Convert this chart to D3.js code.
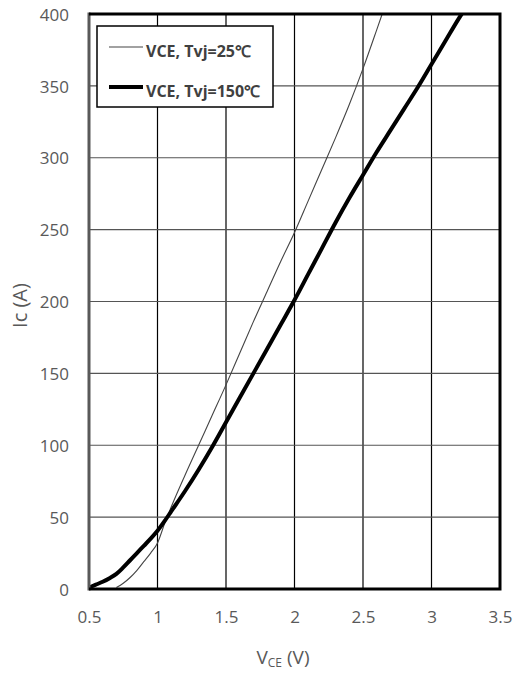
<!DOCTYPE html>
<html>
<head>
<meta charset="utf-8">
<script src="https://cdn.jsdelivr.net/npm/d3@7"></script>
<style>
  html, body { margin: 0; padding: 0; background: #fff; }
  svg { display: block; font-family: "Open Sans", sans-serif; }
</style>
</head>
<body>
<svg id="chart" width="514" height="673"></svg>
<script>
// Output characteristic Ic vs VCE at two junction temperatures
const vce25 = [0.70, 0.75, 0.80, 0.85, 0.90, 0.95, 1.00, 1.05, 1.10, 1.20, 1.30, 1.40, 1.50, 1.60, 1.70, 1.80, 1.90, 2.00, 2.10, 2.20, 2.30, 2.40, 2.50, 2.60, 2.64];
const ic25  = [1, 4, 8, 13, 19, 25, 32, 45, 57, 79, 100, 121, 142, 164, 186, 207, 228, 248, 270, 292, 314, 337, 362, 389, 400];

const vce150 = [0.50, 0.55, 0.60, 0.65, 0.70, 0.75, 0.80, 0.85, 0.90, 0.95, 1.00, 1.05, 1.10, 1.20, 1.30, 1.40, 1.50, 1.60, 1.70, 1.80, 1.90, 2.00, 2.10, 2.20, 2.30, 2.40, 2.50, 2.60, 2.70, 2.80, 2.90, 3.00, 3.10, 3.20, 3.22];
const ic150  = [1, 3, 5, 7.5, 10.5, 15, 20, 25, 30, 35, 40.5, 47, 54, 68, 83, 99, 116, 133, 150, 167, 184, 201, 219, 237, 255, 272, 288, 304, 319, 334, 349, 365, 381, 397, 400];

const xTicks = [0.5, 1, 1.5, 2, 2.5, 3, 3.5];
const yTicks = [0, 50, 100, 150, 200, 250, 300, 350, 400];
const legendLabels = ["VCE, Tvj=25\u2103", "VCE, Tvj=150\u2103"];

const svg = d3.select("#chart");
const plot = { left: 89, right: 500, top: 14, bottom: 589 };

const x = d3.scaleLinear().domain([0.5, 3.5]).range([plot.left, plot.right]);
const y = d3.scaleLinear().domain([0, 400]).range([plot.bottom, plot.top]);

// grid
const grid = svg.append("g");
grid.selectAll("line.v").data(xTicks.slice(1, -1)).join("line")
  .attr("x1", d => x(d)).attr("x2", d => x(d))
  .attr("y1", plot.top).attr("y2", plot.bottom)
  .attr("stroke", "#000").attr("stroke-width", 1.2);
grid.selectAll("line.h").data(yTicks.slice(1, -1)).join("line")
  .attr("x1", plot.left).attr("x2", plot.right)
  .attr("y1", d => y(d)).attr("y2", d => y(d))
  .attr("stroke", "#555").attr("stroke-width", 1.2);

// tick labels
const xAxis = d3.axisBottom(x).tickValues(xTicks).tickSize(0).tickPadding(0).tickFormat(d3.format("~g"));
const gx = svg.append("g").attr("transform", `translate(0,${plot.bottom})`).call(xAxis);
gx.select(".domain").remove();
gx.selectAll("text").attr("dy", null).attr("y", 34)
  .attr("font-size", 17).attr("font-family", "Open Sans, sans-serif").attr("fill", "#595959");

const yAxis = d3.axisLeft(y).tickValues(yTicks).tickSize(0).tickPadding(0);
const gy = svg.append("g").attr("transform", `translate(${plot.left - 20},0)`).call(yAxis);
gy.select(".domain").remove();
gy.selectAll("text").attr("dy", "0.36em")
  .attr("font-size", 17).attr("font-family", "Open Sans, sans-serif").attr("fill", "#595959");

// curves
svg.append("clipPath").attr("id", "plotclip").append("rect")
  .attr("x", plot.left).attr("y", plot.top)
  .attr("width", plot.right - plot.left).attr("height", plot.bottom - plot.top);

const lineGen = d3.line().x(d => x(d[0])).y(d => y(d[1])).curve(d3.curveMonotoneX);

const curves = svg.append("g").attr("clip-path", "url(#plotclip)");
curves.append("path").datum(d3.zip(vce25, ic25))
  .attr("d", lineGen).attr("fill", "none").attr("stroke", "#444").attr("stroke-width", 1.1);
curves.append("path").datum(d3.zip(vce150, ic150))
  .attr("d", lineGen).attr("fill", "none").attr("stroke", "#000").attr("stroke-width", 4)
  .attr("stroke-linejoin", "round");

// frame
svg.append("line").attr("x1", plot.left).attr("x2", plot.left)
  .attr("y1", plot.top - 1.5).attr("y2", plot.bottom + 1.5)
  .attr("stroke", "#595959").attr("stroke-width", 3);
svg.append("path")
  .attr("d", `M${plot.left},${plot.top}H${plot.right}V${plot.bottom}H${plot.left}`)
  .attr("fill", "none").attr("stroke", "#000").attr("stroke-width", 3);

// legend
const lg = svg.append("g");
lg.append("rect").attr("x", 97).attr("y", 26).attr("width", 176).attr("height", 81)
  .attr("fill", "#fff").attr("stroke", "#000").attr("stroke-width", 1.5);
const rows = [{ w: 1.1, c: "#444", y: 47 }, { w: 4, c: "#000", y: 87 }];
rows.forEach((r, i) => {
  lg.append("line").attr("x1", 109).attr("x2", 143).attr("y1", r.y).attr("y2", r.y)
    .attr("stroke", r.c).attr("stroke-width", r.w);
  lg.append("text").attr("x", 146).attr("y", r.y + 5).attr("dy", "0.32em")
    .attr("font-size", 16).attr("font-weight", "bold").attr("fill", "#404040")
    .text(legendLabels[i]);
});

// axis titles
svg.append("text")
  .attr("transform", `translate(27,${(plot.top + plot.bottom) / 2 + 4}) rotate(-90)`)
  .attr("text-anchor", "middle").attr("font-size", 20).attr("fill", "#595959")
  .text("Ic (A)");

const xt = svg.append("text").attr("x", 283).attr("y", 664)
  .attr("text-anchor", "middle").attr("font-size", 19).attr("fill", "#595959");
xt.append("tspan").text("V");
xt.append("tspan").attr("font-size", 12).attr("dy", 3).text("CE");
xt.append("tspan").attr("dy", -3).text(" (V)");
</script>
</body>
</html>
